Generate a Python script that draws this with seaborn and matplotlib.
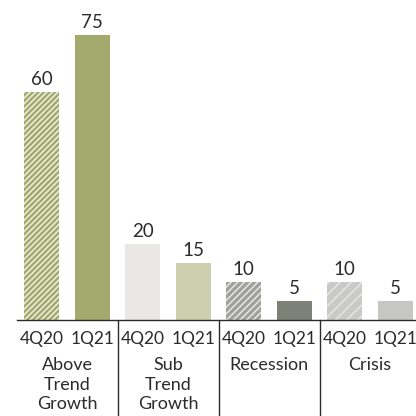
import matplotlib
matplotlib.use("Agg")
import matplotlib.pyplot as plt
import matplotlib.transforms as mtransforms
import seaborn as sns
import pandas as pd

# ---- data ----
groups = ["Above\nTrend\nGrowth", "Sub\nTrend\nGrowth", "Recession", "Crisis"]
periods = ["4Q20", "1Q21"]
values_4q20 = [60, 20, 10, 10]
values_1q21 = [75, 15, 5, 5]
bar_colors = ["#A3A86C", "#A4A96E", "#E9E8E6", "#CDD0AE",
              "#9F9F9C", "#7E8178", "#C9C9C7", "#C6C6C4"]
bar_hatches = ["//////", None, None, None, "/////", None, "///", None]

rows = []
for g, v4, v1 in zip(groups, values_4q20, values_1q21):
    rows.append({"key": g + "|4Q20", "period": "4Q20", "value": v4})
    rows.append({"key": g + "|1Q21", "period": "1Q21", "value": v1})
df = pd.DataFrame(rows)

sns.set_style("white")
plt.rcParams["font.family"] = ["Lato", "DejaVu Sans"]
plt.rcParams["hatch.linewidth"] = 1.1
text_color = "#2b2b2b"

fig = plt.figure(figsize=(4.16, 4.16), dpi=100)
ax = fig.add_axes([16.5 / 416, 96 / 416, 404 / 416, 320 / 416])

sns.barplot(data=df, x="key", y="value", hue="key", palette=bar_colors,
            width=0.69, legend=False, ax=ax, saturation=1)

for i, (p, h) in enumerate(zip(ax.patches, bar_hatches)):
    p.set_linewidth(0)
    if h:
        p.set_hatch(h)
        p.set_edgecolor("#EEF0E0" if i == 0 else "#E6E6E6")

for i, v in enumerate(df["value"]):
    ax.text(i, v + 1.0, f"{v}", ha="center", va="bottom",
            fontsize=13.5, color=text_color)

ax.set_xlim(-0.5, 7.5)
ax.set_ylim(0, 320 / 3.8)
ax.set_xlabel("")
ax.set_ylabel("")
ax.set_yticks([])

for s in ["top", "right", "left"]:
    ax.spines[s].set_visible(False)
ax.spines["bottom"].set_color(text_color)
ax.spines["bottom"].set_linewidth(1.0)

# major ticks at boundaries (short), minor at bar centres with labels
n = len(df)
ax.set_xticks([i - 0.5 for i in range(n + 1)])
ax.set_xticklabels([])
ax.tick_params(axis="x", which="major", length=6, width=1.0, color=text_color,
               direction="out")
ax.set_xticks(list(range(n)), minor=True)
ax.set_xticklabels(list(df["period"]), minor=True)
ax.tick_params(axis="x", which="minor", length=0, pad=8, labelsize=12.5,
               labelcolor=text_color)

trans = mtransforms.blended_transform_factory(ax.transData, ax.transAxes)
for k in range(1, len(groups)):
    xb = 2 * k - 0.5
    ax.plot([xb, xb], [0, -0.32], transform=trans, color=text_color,
            lw=1.0, clip_on=False)

for k, g in enumerate(groups):
    ax.text(2 * k + 0.5, -0.117, g, transform=trans, ha="center", va="top",
            fontsize=13, color=text_color, linespacing=1.25)

fig.savefig("out.png", dpi=100)
